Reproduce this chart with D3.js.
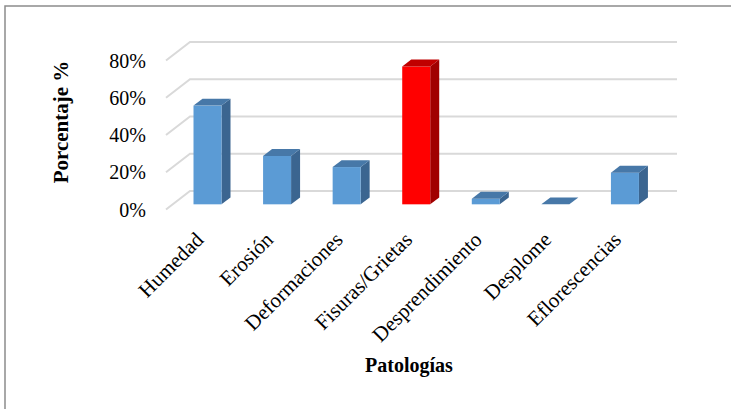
<!DOCTYPE html>
<html>
<head>
<meta charset="utf-8">
<script src="https://cdn.jsdelivr.net/npm/d3@7/dist/d3.min.js"></script>
<style>
  html, body { margin: 0; padding: 0; background: #ffffff; }
  svg { display: block; }
</style>
</head>
<body>
<svg id="chart" width="731" height="409"></svg>
<script>
// Categories and percentage values
const categories = ["Humedad", "Erosión", "Deformaciones", "Fisuras/Grietas", "Desprendimiento", "Desplome", "Eflorescencias"];
const values = [53, 26, 20, 74, 3, 0, 17];
const highlighted = ["Fisuras/Grietas"];
const yTicks = [0, 20, 40, 60, 80];
const yTickLabels = ["0%", "20%", "40%", "60%", "80%"];
const xTitle = "Patologías";
const yTitle = "Porcentaje %";

const serif = "'Liberation Serif', 'Times New Roman', 'DejaVu Serif', serif";

const svg = d3.select("#chart")
  .attr("font-family", serif);

// Front plane of the 3D box
const x = d3.scaleBand().domain(categories).range([166, 653]).paddingInner(0).paddingOuter(0);
const y = d3.scaleLinear().domain([0, 80]).range([209.5, 60.5]);

// Depth offset from the front plane to the back wall
const depthX = 24, depthY = -18.5;
// Bar occupies this slice of the depth
const f0 = 0.28, f1 = 0.655;
const barW = 28;

const palette = {
  normal: { front: "#5b9bd5", top: "#4778a8", side: "#3b6590" },
  hot:    { front: "#ff0000", top: "#c00000", side: "#a00000" }
};

// Frame
svg.append("path")
  .attr("d", "M5,409 L5,6 L731,6")
  .attr("fill", "none")
  .attr("stroke", "#8c8c8c")
  .attr("stroke-width", 1.5);

// Gridlines: side wall diagonal + back wall horizontal
const grid = svg.append("g").attr("stroke", "#d9d9d9").attr("stroke-width", 2).attr("fill", "none");
yTicks.forEach(t => {
  const p = d3.path();
  p.moveTo(x.range()[0], y(t));
  p.lineTo(x.range()[0] + depthX, y(t) + depthY);
  p.lineTo(x.range()[1] + depthX, y(t) + depthY);
  grid.append("path").attr("d", p.toString());
});

// Y tick labels
svg.append("g").selectAll("text")
  .data(yTicks)
  .join("text")
  .attr("font-family", serif)
  .attr("x", 146)
  .attr("y", d => y(d))
  .attr("dy", "0.35em")
  .attr("text-anchor", "end")
  .attr("font-size", 20)
  .text((d, i) => yTickLabels[i]);

// Bars
const bars = svg.append("g");
categories.forEach((c, i) => {
  const v = values[i];
  const col = highlighted.includes(c) ? palette.hot : palette.normal;
  const cx = x(c) + x.bandwidth() / 2 + depthX * f0;
  const oy = depthY * f0;
  const xl = cx - barW / 2, xr = cx + barW / 2;
  const yb = y(0) + oy, yt = y(v) + oy;
  const dx = depthX * (f1 - f0), dy = depthY * (f1 - f0);

  // side face
  const side = d3.path();
  side.moveTo(xr, yb); side.lineTo(xr + dx, yb + dy); side.lineTo(xr + dx, yt + dy); side.lineTo(xr, yt); side.closePath();
  bars.append("path").attr("d", side.toString()).attr("fill", col.side);

  // front face
  bars.append("rect")
    .attr("x", xl).attr("y", yt)
    .attr("width", barW).attr("height", Math.max(0, yb - yt))
    .attr("fill", col.front);

  // top face
  const top = d3.path();
  top.moveTo(xl, yt); top.lineTo(xl + dx, yt + dy); top.lineTo(xr + dx, yt + dy); top.lineTo(xr, yt); top.closePath();
  bars.append("path").attr("d", top.toString()).attr("fill", col.top);
});

// Category labels rotated -45°
svg.append("g").selectAll("text")
  .data(categories)
  .join("text")
  .attr("font-family", serif)
  .attr("transform", d => `translate(${x(d) + x.bandwidth() / 2 + 4},241) rotate(-45)`)
  .attr("text-anchor", "end")
  .attr("font-size", 21)
  .text(d => d);

// Axis titles
svg.append("text")
  .attr("font-family", serif)
  .attr("x", 409).attr("y", 372)
  .attr("text-anchor", "middle")
  .attr("font-size", 20)
  .attr("font-weight", "bold")
  .text(xTitle);

svg.append("text")
  .attr("font-family", serif)
  .attr("transform", "translate(68,122) rotate(-90)")
  .attr("text-anchor", "middle")
  .attr("font-size", 21)
  .attr("font-weight", "bold")
  .text(yTitle);
</script>
</body>
</html>
